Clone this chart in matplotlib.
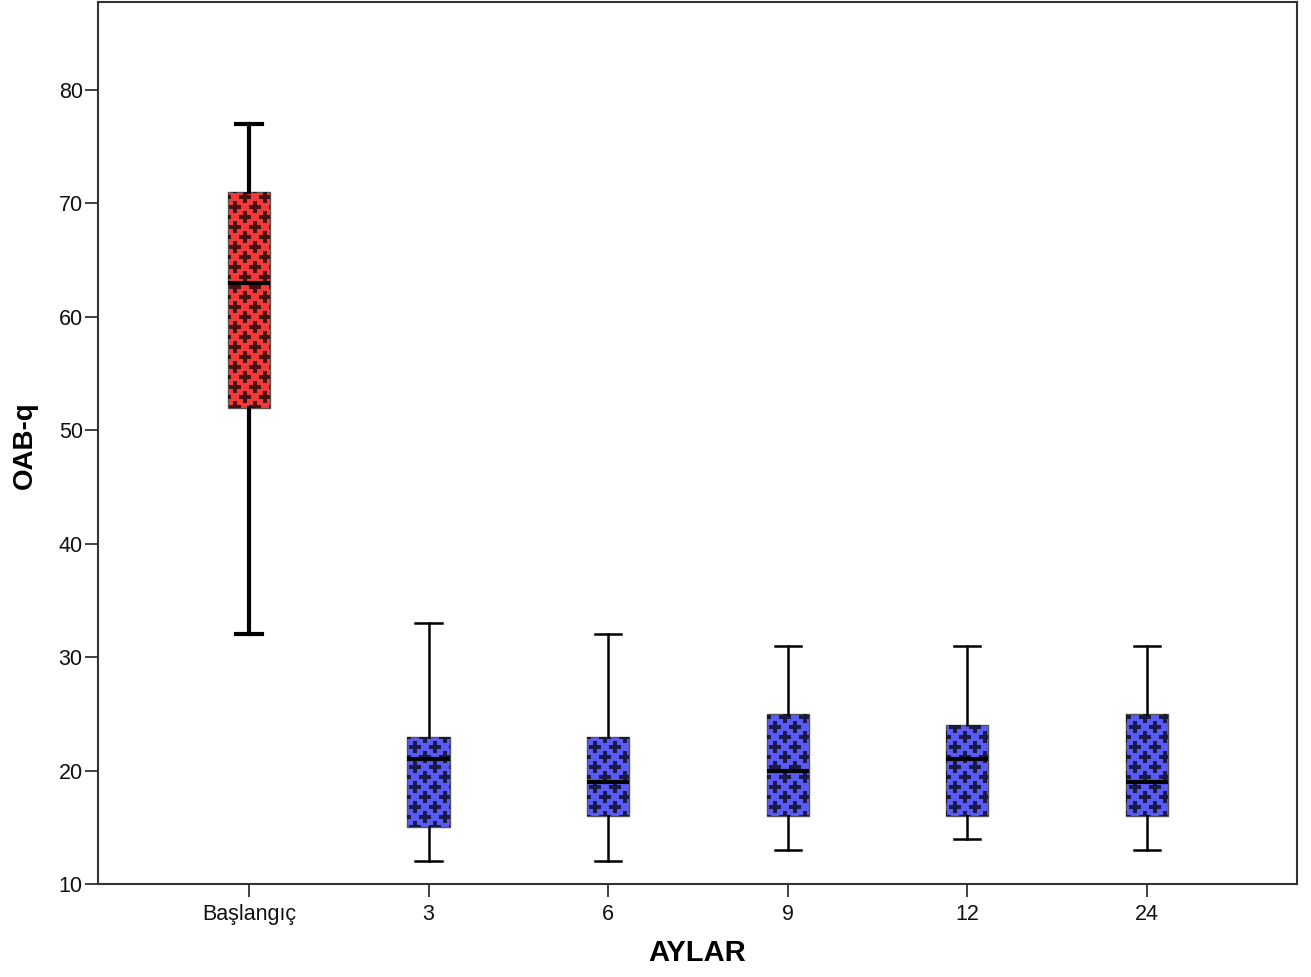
import matplotlib
matplotlib.use("Agg")
import matplotlib.pyplot as plt
import numpy as np

categories = ["Başlangıç", "3", "6", "9", "12", "24"]
whislo = [32, 12, 12, 13, 14, 13]
q1 = [52, 15, 16, 16, 16, 16]
med = [63, 21, 19, 20, 21, 19]
q3 = [71, 23, 23, 25, 24, 25]
whishi = [77, 33, 32, 31, 31, 31]
colors = ["#f23a3a", "#5a5af5", "#5a5af5", "#5a5af5", "#5a5af5", "#5a5af5"]
yticks = [10, 20, 30, 40, 50, 60, 70, 80]

plt.rcParams['font.family'] = ['Liberation Sans', 'DejaVu Sans']

W, H = 1311, 977
fig = plt.figure(figsize=(W / 100, H / 100), dpi=100)
ax = fig.add_axes([98 / W, 1 - 884 / H, 1199 / W, 882 / H])

stats = []
for i, c in enumerate(categories):
    stats.append(dict(label=c, whislo=whislo[i], q1=q1[i], med=med[i],
                      q3=q3[i], whishi=whishi[i], fliers=[]))
pos = np.arange(len(categories))
bp = ax.bxp(stats, positions=pos, widths=0.235, patch_artist=True,
            showfliers=False,
            boxprops=dict(edgecolor="#555555", linewidth=1.0),
            medianprops=dict(color="black", linewidth=3),
            whiskerprops=dict(color="black", linewidth=1.8),
            capprops=dict(color="black", linewidth=1.8),
            capwidths=0.145)
for i, b in enumerate(bp['boxes']):
    b.set_facecolor(colors[i])
    b.set_zorder(2)
for k in (0, 1):
    bp['whiskers'][k].set_linewidth(3)
    bp['caps'][k].set_linewidth(3)

ax.set_xlim(-0.84, 5.835)
ax.set_ylim(10, 87.76)
ax.set_yticks(yticks)
ax.set_xticks(pos)
ax.set_xticklabels(categories)
ax.tick_params(axis='both', labelsize=15.5, length=9.5, width=1.3,
               direction='out', color='#333333', labelcolor='#111111')
ax.tick_params(axis='y', pad=1.5)
ax.tick_params(axis='x', pad=5)
for s in ax.spines.values():
    s.set_linewidth(1.5)
    s.set_color("#333333")

# cross pattern inside boxes (pixel-space staggered pattern)
fig.canvas.draw()
step = 20.0
for i, b in enumerate(bp['boxes']):
    x0, y0 = ax.transData.transform((pos[i] - 0.1175, q1[i]))
    x1, y1 = ax.transData.transform((pos[i] + 0.1175, q3[i]))
    pts = []
    ystart = np.floor(y0 / (step / 2)) * (step / 2) - step
    yy = ystart
    while yy < y1 + step:
        r = int(round(yy / (step / 2)))
        off = (step / 2) * (r % 2) + 5
        xx = np.floor(x0 / step) * step - step + off
        while xx < x1 + step:
            pts.append((xx, yy))
            xx += step
        yy += step / 2
    pts = np.array(pts)
    dpts = ax.transData.inverted().transform(pts)
    ln, = ax.plot(dpts[:, 0], dpts[:, 1], linestyle='none', marker='P',
                  markersize=8.5, color='black', alpha=0.7,
                  markeredgewidth=0, zorder=2.5)
    ln.set_clip_path(b)

for m in bp['medians']:
    m.set_zorder(3)

ax.set_xlabel("AYLAR", fontsize=21, fontweight='bold', va='center')
ax.xaxis.set_label_coords((697 - 98) / 1199, (884 - 953) / 882)
ax.set_ylabel("OAB-q", fontsize=20, fontweight='bold', va='center')
ax.yaxis.set_label_coords((24.5 - 98) / 1199, (884 - 445) / 882)

fig.savefig("out.png", dpi=100)
